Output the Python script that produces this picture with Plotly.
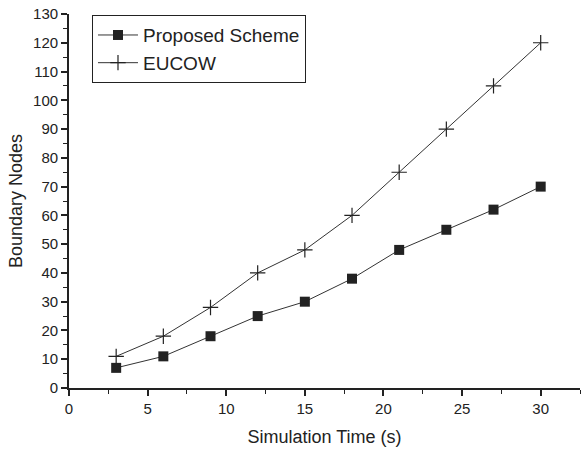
import plotly.graph_objects as go

time_s = [3, 6, 9, 12, 15, 18, 21, 24, 27, 30]
proposed = [7, 11, 18, 25, 30, 38, 48, 55, 62, 70]
eucow = [11, 18, 28, 40, 48, 60, 75, 90, 105, 120]

fig = go.Figure()
fig.add_trace(go.Scatter(
    x=time_s, y=proposed, mode="lines+markers", name="Proposed Scheme",
    line=dict(color="#333333", width=1),
    marker=dict(symbol="square", size=10, color="#222222"),
))
fig.add_trace(go.Scatter(
    x=time_s, y=eucow, mode="lines+markers", name="EUCOW",
    line=dict(color="#333333", width=1),
    marker=dict(symbol="cross-thin-open", size=11, color="#222222",
                line=dict(color="#222222", width=1.2)),
))

font_family = "Liberation Sans, Arial, sans-serif"
fig.update_layout(
    width=585, height=450,
    margin=dict(l=69, r=5, t=14, b=62),
    paper_bgcolor="white", plot_bgcolor="white",
    font=dict(family=font_family, color="#222222", size=15),
    showlegend=True,
    legend=dict(
        x=0.045, y=0.997, xanchor="left", yanchor="top",
        bordercolor="#222222", borderwidth=1, bgcolor="white",
        font=dict(size=19, family=font_family, color="#222222"),
        tracegroupgap=0, itemwidth=40,
    ),
    xaxis=dict(
        range=[0, 32.5], tickmode="array", tickvals=[0, 5, 10, 15, 20, 25, 30],
        ticks="outside", ticklen=6, tickwidth=1.5, tickcolor="#222222",
        showline=True, linecolor="#222222", linewidth=1.8,
        showgrid=False, zeroline=False,
        minor=dict(ticks="outside", ticklen=4, tickwidth=1.2, tickcolor="#222222", dtick=2.5, tick0=0),
        title=dict(text="Simulation Time (s)", font=dict(size=18), standoff=14),
        tickfont=dict(size=15),
    ),
    yaxis=dict(
        range=[0, 130], tickmode="array", tickvals=list(range(0, 131, 10)),
        ticks="outside", ticklen=6, tickwidth=1.5, tickcolor="#222222",
        showline=True, linecolor="#222222", linewidth=1.8,
        showgrid=False, zeroline=False,
        minor=dict(ticks="outside", ticklen=4, tickwidth=1.2, tickcolor="#222222", dtick=5, tick0=0),
        title=dict(text="Boundary Nodes", font=dict(size=18), standoff=6),
        tickfont=dict(size=15),
    ),
)

fig.write_html("out.html")
